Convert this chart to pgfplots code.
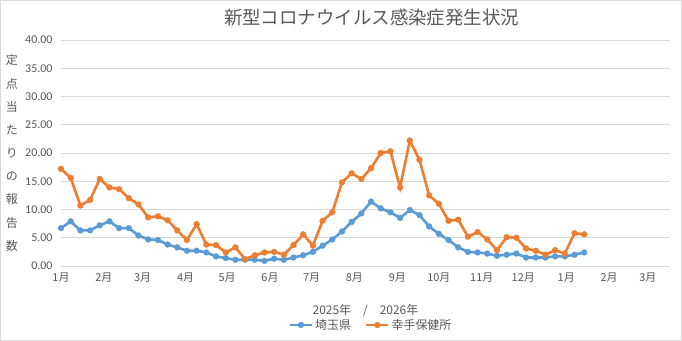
\documentclass[border=0pt]{standalone}
\usepackage{pgfplots}
\pgfplotsset{compat=1.18}
\usepackage{pgfplotstable}
\usepackage{fontspec}
\setmainfont{Carlito}
\newfontfamily\cjk{Noto Sans CJK JP}
\definecolor{textgray}{HTML}{595959}
\definecolor{gridgray}{HTML}{D9D9D9}
\definecolor{sblue}{HTML}{5B9BD5}
\definecolor{sorange}{HTML}{ED7D31}
\pgfplotstableread{
x saitama satte
0 6.7 17.2
7 7.9 15.6
14 6.3 10.7
21 6.3 11.7
28 7.2 15.4
35 7.9 13.9
42 6.7 13.6
49 6.7 12.0
56 5.4 10.9
63 4.7 8.6
70 4.6 8.8
77 3.8 8.1
84 3.3 6.3
91 2.7 4.6
98 2.7 7.4
105 2.4 3.8
112 1.7 3.7
119 1.4 2.4
126 1.1 3.3
133 1.1 1.2
140 1.1 1.9
147 0.9 2.4
154 1.3 2.5
161 1.1 2.0
168 1.5 3.7
175 1.9 5.6
182 2.5 3.6
189 3.6 8.0
196 4.7 9.5
203 6.1 14.8
210 7.8 16.4
217 9.3 15.4
224 11.4 17.3
231 10.2 20.0
238 9.5 20.3
245 8.5 13.9
252 9.9 22.2
259 9.0 18.8
266 7.0 12.5
273 5.7 11.0
280 4.6 8.0
287 3.3 8.2
294 2.5 5.2
301 2.4 6.0
308 2.2 4.7
315 1.8 2.8
322 2.0 5.1
329 2.2 5.0
336 1.5 3.1
343 1.5 2.7
350 1.5 2.0
357 1.7 2.8
364 1.7 2.2
371 2.0 5.8
378 2.4 5.6
}\datatable
\begin{document}
\begin{tikzpicture}
\path[use as bounding box] (0,0) rectangle (682bp,341bp);
\draw[gridgray, line width=1bp] (0.5bp,0.5bp) rectangle (681.5bp,340.5bp);
\begin{axis}[
  at={(61bp,75bp)}, anchor=south west,
  scale only axis, width=609bp, height=226bp,
  xmin=0, xmax=440, ymin=0, ymax=40,
  xtick={0,31,59,90,120,151,181,212,243,273,304,334,365,396,424},
  xticklabels={1月,2月,3月,4月,5月,6月,7月,8月,9月,10月,11月,12月,1月,2月,3月},
  ytick={0,5,...,40},
  axis line style={draw=none},
  major tick length=0pt,
  ymajorgrids, grid style={gridgray, line width=0.75bp},
  /pgf/number format/assume math mode=true,
  yticklabel={\pgfmathprintnumber[fixed,fixed zerofill,precision=2]{\tick}},
  yticklabel style={font=\fontsize{12}{14}\selectfont, text=textgray, xshift=-5bp},
  xticklabel style={font=\cjk\fontsize{11}{13}\selectfont, text=textgray, yshift=-3bp},
  title={\cjk 新型コロナウイルス感染症発生状況},
  title style={font=\cjk\fontsize{18.5}{20}\selectfont, text=textgray, at={(rel axis cs:0.51,1.075)}, anchor=center},
  xlabel={2025年\hspace{12bp}/\hspace{12bp}2026年},
  xlabel style={font=\cjk\fontsize{12}{14}\selectfont, text=textgray, at={(rel axis cs:0.5,-0.199)}, anchor=center},
  ylabel={定\\点\\当\\た\\り\\の\\報\\告\\数},
  ylabel style={rotate=-90, align=center, font=\cjk\fontsize{12}{23.25}\selectfont, text=textgray, at={(rel axis cs:-0.0805,0.5)}, anchor=center},
  legend columns=2,
  legend style={draw=none, fill=none, font=\cjk\fontsize{12}{14}\selectfont, text=textgray,
    at={(rel axis cs:0.509,-0.261)}, anchor=center,
    /tikz/every even column/.append style={column sep=12bp}},
  legend image code/.code={
    \draw[#1, mark=none] (0bp,0bp) -- (22bp,0bp);
    \draw[#1, only marks] plot coordinates {(11bp,0bp)};
  },
]
\addplot[sblue, line width=2.6bp, mark=*, mark size=2.9bp, mark options={solid, line width=0.4bp}] table[x=x, y=saitama] {\datatable};
\addlegendentry{埼玉県}
\addplot[sorange, line width=2.6bp, mark=*, mark size=2.9bp, mark options={solid, line width=0.4bp}] table[x=x, y=satte] {\datatable};
\addlegendentry{幸手保健所}
\end{axis}
\end{tikzpicture}
\end{document}
